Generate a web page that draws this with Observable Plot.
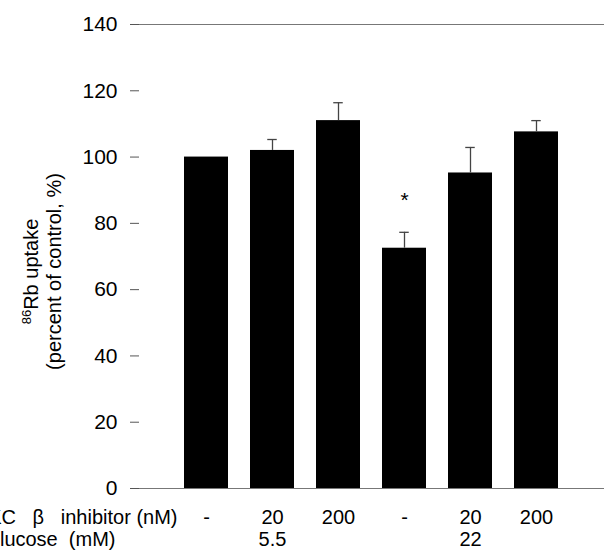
<!DOCTYPE html>
<html><head><meta charset="utf-8">
<script src="https://cdn.jsdelivr.net/npm/d3@7"></script>
<script src="https://cdn.jsdelivr.net/npm/@observablehq/plot@0.6"></script>
<style>
html,body{margin:0;padding:0;background:#fff;overflow:hidden;}
#chart svg{display:block;}
</style></head><body><div id="chart"></div>
<script>
const categories = ["g1","g2","g3","g4","g5","g6"];
const uptake = [100, 102.0, 111.0, 72.5, 95.2, 107.6];
const sem = [0, 3.3, 5.4, 4.8, 7.7, 3.4];
const inhibitorLabels = ["-","20","200","-","20","200"];
const glucoseLabels = ["","5.5","","","22",""];
const significance = ["","","","*","",""];
const yTicks = [0,20,40,60,80,100,120,140];
const rowTitles = ["PKC\u00A0\u00A0\u00A0\u03B2\u00A0\u00A0\u00A0inhibitor (nM)", "Glucose\u00A0\u00A0(mM)"];
const yTitleIsotope = "86";
const yTitleLines = ["Rb uptake", "(percent of control, %)"];

const data = categories.map((id,i)=>({id, value: uptake[i], err: sem[i], inh: inhibitorLabels[i], glu: glucoseLabels[i], sig: significance[i]}));
const withErr = data.filter(d=>d.err>0);
const FONT = "'Liberation Sans', Arial, Helvetica, sans-serif";
const yTitle1 = yTitleIsotope + yTitleLines[0];

const plot = Plot.plot({
  width: 604, height: 550,
  marginLeft: 139, marginRight: 0, marginTop: 24, marginBottom: 62,
  style: {fontFamily: FONT, fontSize: "20px", background: "white", color: "black"},
  x: {domain: categories, paddingInner: 0.33, paddingOuter: 0.665, axis: null},
  y: {domain: [0,140], axis: null},
  marks: [
    Plot.ruleY([0,140], {stroke: "#777"}),
    Plot.axisY({ticks: yTicks, tickSize: 9, tickPadding: 13, fontSize: 21, stroke: "#555", fill: "black", line: true, label: null}),
    Plot.barY(data, {x:"id", y:"value", fill:"black"}),
    Plot.ruleX(withErr, {x:"id", y1:"value", y2: d=>d.value+d.err, stroke:"#444", strokeWidth:1.3}),
    Plot.tickY(withErr, {x:"id", y: d=>d.value+d.err, stroke:"#444", strokeWidth:1.3, insetLeft:17.25, insetRight:17.25}),
    Plot.text(data.filter(d=>d.sig), {x:"id", y:d=>d.value+d.err, text:"sig", dy:-32, fontSize:21}),
    Plot.text(data, {x:"id", text:"inh", frameAnchor:"bottom", lineAnchor:"bottom", dy:35, fontSize:20}),
    Plot.text(data, {x:"id", text:"glu", frameAnchor:"bottom", lineAnchor:"bottom", dy:57, fontSize:20}),
    Plot.text([rowTitles[0]], {text: d=>d, frameAnchor:"bottom-left", textAnchor:"end", lineAnchor:"bottom", dx:38, dy:35, fontSize:20}),
    Plot.text([rowTitles[1]], {text: d=>d, frameAnchor:"bottom-left", textAnchor:"end", lineAnchor:"bottom", dx:-24, dy:57, fontSize:20}),
    Plot.text([yTitle1], {text: d=>d, frameAnchor:"left", rotate:-90, textAnchor:"middle", lineAnchor:"bottom", dx:-102, dy:15, fontSize:20}),
    Plot.text([yTitleLines[1]], {text: d=>d, frameAnchor:"left", rotate:-90, textAnchor:"middle", lineAnchor:"bottom", dx:-79, dy:15, fontSize:20})
  ]
});
document.getElementById("chart").appendChild(plot);

// superscript isotope number in the y title
d3.select(plot).selectAll("text").filter(function(){ return this.textContent === yTitle1; }).each(function(){
  const t = d3.select(this);
  t.text(null);
  t.append("tspan").attr("font-size", "13px").attr("baseline-shift", "super").text(yTitleIsotope);
  t.append("tspan").text(yTitleLines[0]);
});
</script></body></html>
